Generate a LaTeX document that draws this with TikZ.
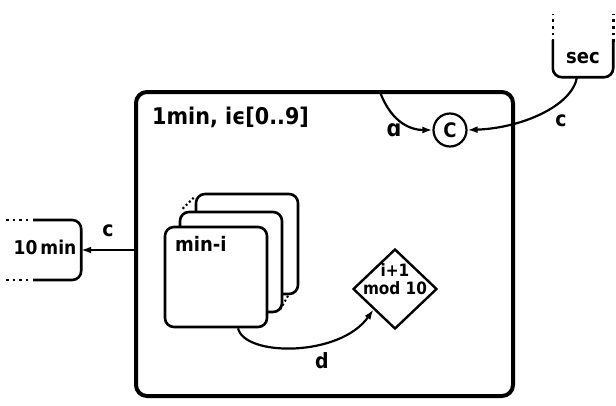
\documentclass[tikz,border=0pt]{standalone}
\usepackage{fontspec}
\setmainfont{DejaVu Sans Condensed}
\usetikzlibrary{arrows.meta,shapes.geometric}
\tikzset{
  every node/.append style={font=\bfseries},
  thinline/.style={line width=2.2pt},
  boxline/.style={line width=2.6pt, rounded corners=9pt},
  tip/.style={-{Latex[length=10pt,width=7pt]}},
  lbl/.style={font=\bfseries\fontsize{21}{22}\selectfont, inner sep=0pt},
  dots/.style={line width=2.6pt, dash pattern=on 2.6pt off 4pt},
  stackbox/.style={draw, boxline, fill=white, minimum width=102pt, minimum height=100pt, inner sep=0pt},
}
\begin{document}
\begin{tikzpicture}[x=1pt,y=-1pt]
\useasboundingbox (0,0) rectangle (616,405);
% outer state
\node[draw, line width=4pt, rounded corners=11pt, minimum width=377pt, minimum height=304pt, inner sep=0pt] (outer) at (324.5,244) {};
\node[anchor=west, inner sep=0pt, font=\bfseries\fontsize{23}{25}\selectfont] (title) at (152,117) {1min, iϵ[0..9]};
% C connector
\node[draw, circle, line width=2.2pt, minimum size=33pt, inner sep=0pt, font=\bfseries\fontsize{20}{22}\selectfont] (C) at (450,130) {C};
\coordinate (astart) at (380,92);
\draw[thinline, tip] (astart) .. controls (392,124) and (412,130) .. (C.west);
\node[lbl, font=\bfseries\fontsize{23}{24}\selectfont] (la) at (394,130) {ɑ};
% sec
\node[minimum width=60pt, minimum height=37pt, inner sep=0pt, font=\bfseries\fontsize{20}{22}\selectfont] (sec) at (583,58.5) {sec};
\draw[boxline] (sec.north west) -- (sec.south west) -- (sec.south east) -- (sec.north east);
\draw[dots] ([yshift=-2pt]sec.north west) -- ++(0,-28);
\draw[dots] ([yshift=-2pt]sec.north east) -- ++(0,-28);
\coordinate (secout) at ([xshift=-6pt]sec.south);
\draw[thinline, tip] (secout) .. controls (572,106) and (522,128) .. (C.east);
\node[lbl] (lc1) at (561,121) {c};
% 10 min
\node[minimum width=72pt, minimum height=60pt, inner sep=0pt, font=\bfseries\fontsize{19}{21}\selectfont] (tenmin) at (45,250) {\raisebox{6pt}{10\hspace{3pt}min}};
\coordinate (tnw) at (11,220);
\coordinate (tsw) at (11,280);
\draw[boxline] ([xshift=22pt]tnw) -- (tnw -| tenmin.east) -- (tsw -| tenmin.east) -- ([xshift=22pt]tsw);
\draw[dots] ([xshift=-5pt]tnw) -- ++(24,0);
\draw[dots] ([xshift=-5pt]tsw) -- ++(24,0);
\coordinate (cleft) at (outer.west |- tenmin.east);
\draw[thinline, tip] (cleft) -- (tenmin.east);
\node[lbl] (lc2) at (108,231) {c};
% stack of min-i
\node[stackbox] (back) at (247,244) {};
\node[stackbox] (mid) at (231,262) {};
\node[stackbox] (front) at (216,277) {};
\node[anchor=west, inner sep=0pt, font=\bfseries\fontsize{20}{22}\selectfont] (mini) at (175,244) {min-i};
\draw[line width=2pt, dash pattern=on 2pt off 2.5pt] ([shift={(4,-2)}]mid.north west) -- ([shift={(0,4)}]back.north west);
\draw[line width=2pt, dash pattern=on 2pt off 2.5pt] ([shift={(-3,-4)}]mid.south east) -- ([shift={(-11,0)}]back.south east);
% diamond
\node[draw, diamond, line width=2.4pt, minimum width=84pt, minimum height=80pt, inner sep=0pt] (diam) at (395,289) {};
\node[align=center, inner sep=0pt, font=\bfseries\fontsize{17}{18}\selectfont] (diamtext) at (395,279) {i+1\\mod 10};
\coordinate (dstart) at ([xshift=22pt]front.south);
\draw[thinline, tip] (dstart) .. controls (245,357) and (340,357) .. (diam.south west);
\node[lbl] (ld) at (322,361) {d};
\end{tikzpicture}
\end{document}
